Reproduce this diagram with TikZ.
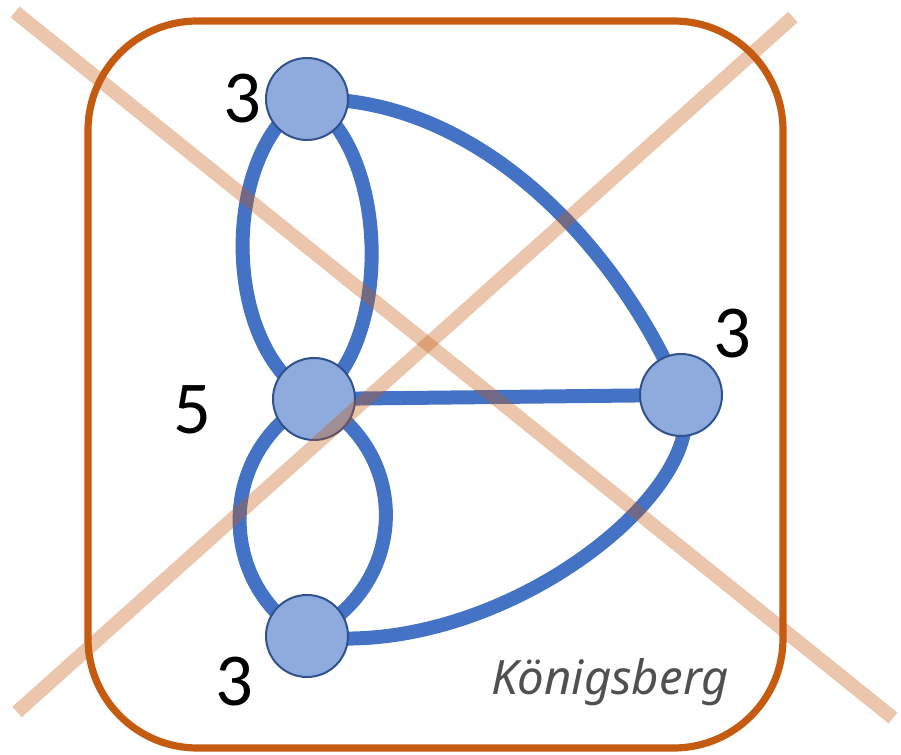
\documentclass[tikz,border=0pt]{standalone}
\usetikzlibrary{backgrounds}
\usepackage{fontspec}
\setmainfont{Carlito}
\newfontfamily\labfont{Noto Sans}
\definecolor{frameor}{HTML}{C55A11}
\definecolor{edgeblue}{HTML}{4472C4}
\definecolor{nodefill}{HTML}{8FAADC}
\definecolor{nodeline}{HTML}{2F528F}
\definecolor{labgray}{HTML}{505050}
\begin{document}
\begin{tikzpicture}[x=0.75pt,y=-0.75pt,
  vert/.style={circle,fill=nodefill,draw=nodeline,line width=1.5pt,minimum size=61.5pt,inner sep=0pt},
  edge/.style={draw=edgeblue,line width=10.5pt},
  deg/.style={font=\fontsize{56}{56}\selectfont,inner sep=0pt,anchor=center},
  cross/.style={draw=frameor,draw opacity=0.35,line width=10.5pt}]
\useasboundingbox (0,0) rectangle (901,755);
% vertices
\node[vert] (t) at (307,99) {};
\node[vert] (m) at (314,399) {};
\node[vert] (r) at (681,395) {};
\node[vert] (b) at (307,636) {};
% frame and edges behind the vertices
\begin{scope}[on background layer]
\draw[frameor,line width=5.4pt,rounded corners=82pt] (88,21) rectangle (783,748);
\path[edge] (t.center) .. controls (220,150) and (220,350) .. (m.center);
\path[edge] (t.center) .. controls (392,150) and (392,350) .. (m.center);
\path[edge] (m.center) .. controls (216,450) and (216,585) .. (b.center);
\path[edge] (m.center) .. controls (411,450) and (411,585) .. (b.center);
\path[edge] (m.center) -- (r.center);
\path[edge] (t.center) .. controls (480,95) and (620,250) .. (r.center);
\path[edge] (b.center) .. controls (500,662) and (720,485) .. (r.center);
\end{scope}
% degrees
\node[deg] (dt) at (242,99) {3};
\node[deg] (dm) at (192,410) {5};
\node[deg] (dr) at (732,334) {3};
\node[deg] (db) at (234,682) {3};
% label
\node[font=\labfont\itshape\fontsize{35.5}{35.5}\selectfont,text=labgray,anchor=base west,inner sep=0pt] (lab) at (491,695) {Königsberg};
% cross
\coordinate (c1a) at (15,12);
\coordinate (c1b) at (893,718);
\coordinate (c2a) at (17,712);
\coordinate (c2b) at (793,17);
\path[cross] (c1a) -- (c1b);
\path[cross] (c2a) -- (c2b);
\end{tikzpicture}
\end{document}
